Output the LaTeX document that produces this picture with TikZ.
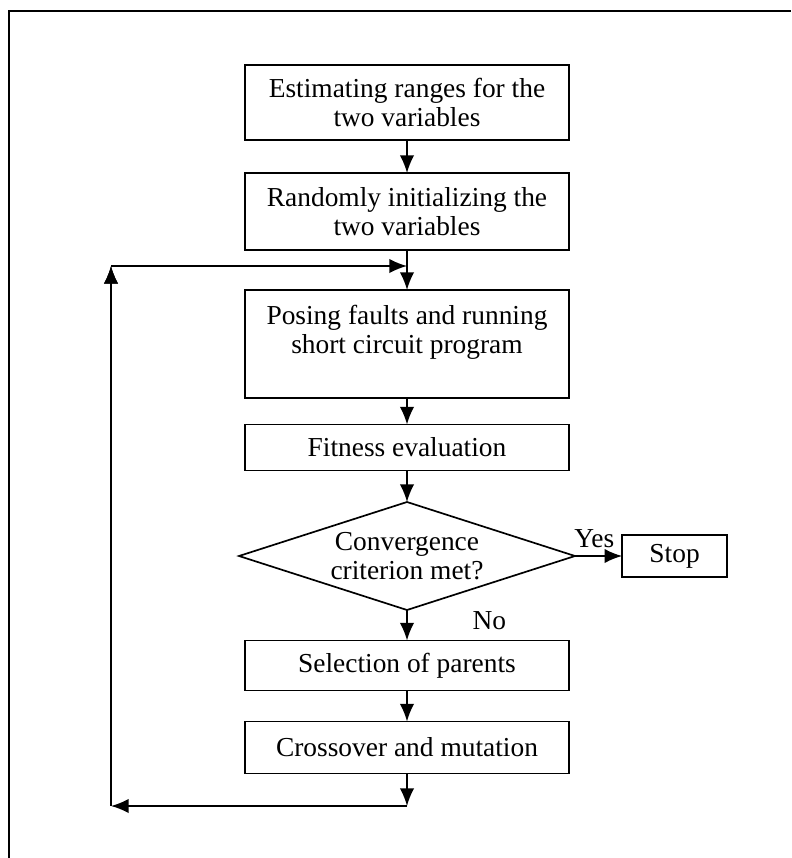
\documentclass[tikz,border=0pt]{standalone}
\usepackage{fontspec}
\setmainfont{Liberation Serif}
\usetikzlibrary{arrows.meta, positioning, shapes.geometric}

\begin{document}
\begin{tikzpicture}[>={Latex[length=4.4mm,width=3.6mm]},line width=1.2pt,on grid,auto,
    font=\fontsize{19.5}{21}\selectfont]
    \tikzstyle{process}=[shape=rectangle,draw,minimum width=8.1cm,inner sep=0pt,outer sep=0pt,align=center]
    \tikzstyle{decision}=[shape=diamond,draw,aspect=3.1,minimum width=8.4cm,minimum height=2.7cm,inner sep=0pt,outer sep=0pt,align=center]

    \useasboundingbox (0,0) rectangle (19.775,-21.45);
    % frame
    \draw (0.225,-21.45) -- (0.225,-0.275) -- (19.775,-0.275);

    \node[process,minimum height=1.875cm] (est) at (10.175,-2.5625) {Estimating ranges for the\\two variables};
    \node[process,minimum height=1.925cm,below=2.725cm of est] (init) {Randomly initializing the\\two variables};
    \node[process,minimum height=2.7cm,below=3.3125cm of init] (pose) {Posing faults and running\\short circuit program\\\mbox{}};
    \node[process,minimum height=1.15cm,below=2.5875cm of pose] (fit) {Fitness evaluation};
    \node[decision,below=2.7125cm of fit] (conv) {Convergence\\criterion met?};
    \node[process,minimum height=1.25cm,below=2.7375cm of conv] (sel) {Selection of parents};
    \node[process,minimum height=1.3cm,below=2.05cm of sel] (cross) {Crossover and mutation};
    \node[process,minimum width=2.625cm,minimum height=1.05cm,right=6.69cm of conv] (stop) {Stop};

    % feedback loop corners
    \coordinate (bot) at (10.175,-20.15);
    \coordinate (bl) at (2.775,-20.15);
    \coordinate (tl) at (2.775,-6.65);

    \path[->,draw]
    (est) edge (init)
    (init) edge (pose)
    (pose) edge (fit)
    (fit) edge (conv)
    (conv) edge node[pos=0.35,right=1.5cm] {No} (sel)
    (sel) edge (cross)
    (conv) edge node[above=2pt,xshift=-3pt] {Yes} (stop)
    (cross) edge (bot)
    (bot) edge (bl)
    (bl) edge (tl)
    (tl) edge (tl -| pose.north)
    ;
\end{tikzpicture}
\end{document}
